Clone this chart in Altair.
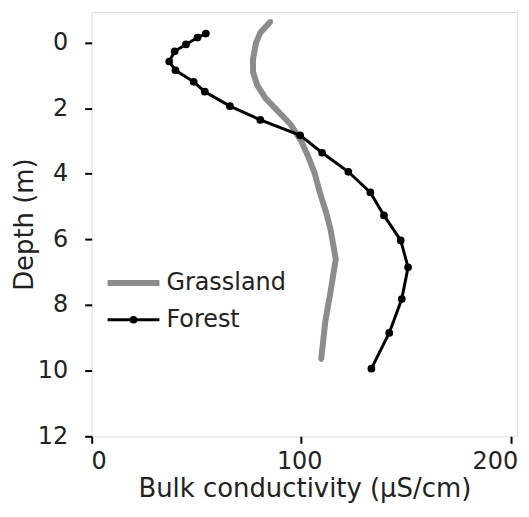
import altair as alt
import pandas as pd

grass_depth = [-0.65, -0.3, 0.0, 0.5, 0.9, 1.3, 1.7, 2.0, 2.5, 3.0, 3.5, 4.0, 4.6, 5.2, 5.7, 6.6, 7.6, 8.5, 9.67]
grass_cond = [85.5, 80.5, 78.5, 77, 77, 79, 83, 87.5, 95, 100, 103.5, 106.5, 109, 112, 114, 116.5, 114, 111.5, 109.5]

forest_depth = [-0.27, -0.15, 0.06, 0.27, 0.58, 0.85, 1.2, 1.5, 1.94, 2.36, 2.83, 3.36, 3.94, 4.57, 5.27, 6.03, 6.85, 7.82, 8.85, 9.94]
forest_cond = [54.5, 50.5, 45, 39.6, 37, 40, 48.7, 54, 66, 80.5, 99.5, 110, 122.5, 133, 139.5, 147.5, 151, 148, 142, 133.5]

series = ["Grassland", "Forest"]
colors = ["#8c8c8c", "#000000"]
y_ticks = [0, 2, 4, 6, 8, 10, 12]
x_ticks = [0, 100, 200]

df = pd.concat([
    pd.DataFrame({"depth": grass_depth, "cond": grass_cond, "site": "Grassland"}),
    pd.DataFrame({"depth": forest_depth, "cond": forest_cond, "site": "Forest"}),
], ignore_index=True)

FONT = "DejaVu Sans"
TXT = "#222222"

x = alt.X("cond:Q", title="Bulk conductivity (\u03bcS/cm)",
          scale=alt.Scale(domain=[0, 203], nice=False, zero=False),
          axis=alt.Axis(values=x_ticks, grid=False, tickSize=7, tickColor="black", tickWidth=2,
                        domain=False, labelFontSize=24, labelColor=TXT, labelPadding=6,
                        labelFlush=False,
                        labelAlign=alt.condition("datum.value == 200", alt.value("right"),
                                                 alt.value("center")),
                        labelOffset=alt.condition("datum.value == 100", alt.value(-2),
                                                  alt.value(7)),
                        titleFontSize=26, titleFontWeight="normal", titleColor=TXT,
                        titlePadding=2, labelFont=FONT, titleFont=FONT))
y = alt.Y("depth:Q", title="Depth (m)",
          scale=alt.Scale(domain=[-0.93, 12], nice=False, zero=False, reverse=True),
          axis=alt.Axis(values=y_ticks, grid=False, tickSize=7, tickColor="black", tickWidth=2,
                        domain=False, labelFontSize=24, labelColor=TXT, labelPadding=17,
                        labelFlush=False,
                        titleFontSize=26, titleFontWeight="normal", titleColor=TXT,
                        titlePadding=0, labelFont=FONT, titleFont=FONT))
cscale = alt.Scale(domain=series, range=colors)
color = alt.Color("site:N", scale=cscale, legend=None)
sw = alt.StrokeWidth("site:N", scale=alt.Scale(domain=series, range=[6, 3]), legend=None)
sz = alt.Size("site:N", scale=alt.Scale(domain=series, range=[20, 60]), legend=None)

base = alt.Chart(df)
lines = base.mark_line().encode(x=x, y=y, color=color, strokeWidth=sw, order="depth:Q", detail="site:N")
pts = base.mark_circle(opacity=1).encode(x=x, y=y, color=color, size=sz)

legend_layers = []
for i, s in enumerate(series):
    ld = alt.Chart(pd.DataFrame({"site": [s]}))
    yy = alt.value(272 + 37 * i)
    legend_layers.append(ld.mark_rule().encode(x=alt.value(16), x2=alt.value(68), y=yy,
                                               color=color, strokeWidth=sw))
    legend_layers.append(ld.mark_circle(opacity=1).encode(x=alt.value(42), y=yy, color=color, size=sz))
    legend_layers.append(ld.mark_text(align="left", baseline="middle", font=FONT, fontSize=24,
                                      color=TXT).encode(x=alt.value(75), y=yy, text="site:N"))

chart = alt.layer(lines, pts, *legend_layers).properties(
    width=427, height=426,
    autosize=alt.AutoSizeParams(type="none"),
    padding={"left": 84, "top": 3, "right": 4, "bottom": 70},
).configure_view(stroke="#111111", strokeWidth=2.5).configure(background="white")

chart.save("out.html", embed_options={"renderer": "svg", "actions": False})
